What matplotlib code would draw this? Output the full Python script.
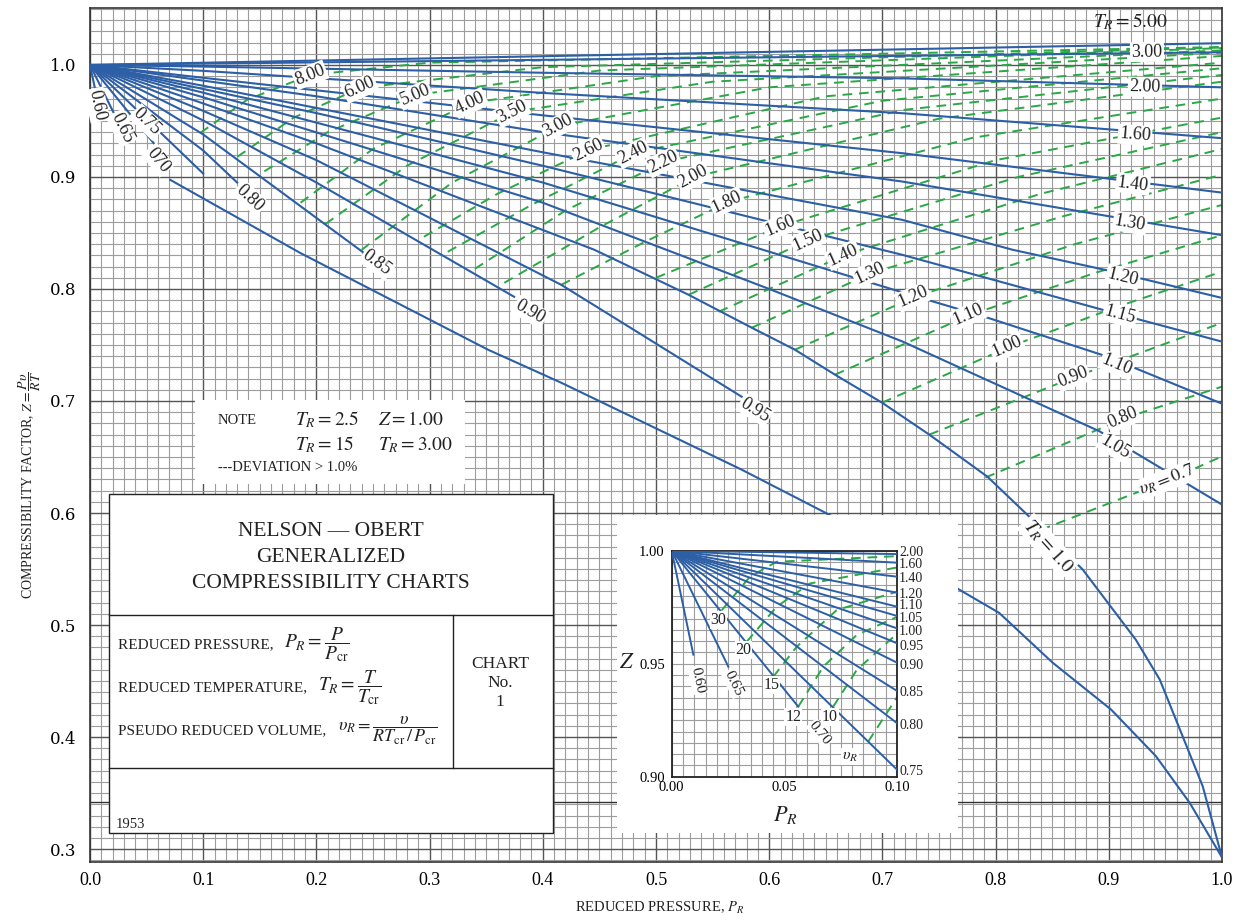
import numpy as np
import matplotlib.pyplot as plt
from matplotlib.patches import Rectangle
from matplotlib.ticker import MultipleLocator

plt.rcParams['font.family'] = ['Liberation Serif', 'DejaVu Serif']
plt.rcParams['mathtext.fontset'] = 'stix'

BLUE = '#2c5fa6'
GREEN = '#2aa845'
INK = '#222222'

# ---- main chart: isotherms (T_R), points as (P_R, Z)
tr_names = ['5.00', '3.00', '2.00', '1.60', '1.40', '1.30', '1.20', '1.15', '1.10',
            '1.05', '1.0', '0.95', '0.90', '0.85', '0.80', '0.75', '0.70', '0.65', '0.60']
tr_p = [
    [0, 1.0],
    [0, 1.0],
    [0, 0.1, 0.4, 0.7175, 1.0],
    [0, 0.1, 0.4, 0.7175, 1.0],
    [0, 0.1, 0.4, 0.7175, 1.0],
    [0, 0.2, 0.4, 0.7175, 1.0],
    [0, 0.1, 0.4, 0.7175, 0.815, 0.897, 1.0],
    [0, 0.2, 0.4, 0.7175, 0.8946, 1.0],
    [0, 0.1, 0.4, 0.7175, 0.794, 0.8975, 1.0],
    [0, 0.1, 0.4, 0.6, 0.7175, 0.8917, 1.0],
    [0, 0.1, 0.2, 0.4455, 0.5288, 0.5846, 0.6227, 0.6581, 0.6997, 0.7414, 0.7927,
     0.8326, 0.877, 0.9017, 0.9238, 0.945, 0.9628, 0.983, 1.0],
    [0, 0.1, 0.2, 0.4163, 0.5757],
    [0, 0.1, 0.2, 0.3747],
    [0, 0.1, 0.2418],
    [0, 0.1, 0.13],
    [0, 0.1],
    [0, 0.062],
    [0, 0.0251],
    [0, 0.0096],
]
tr_z = [
    [1.0, 1.0194],
    [1.0, 1.0113],
    [1.0, 0.9985, 0.993, 0.988, 0.980],
    [1.0, 0.9947, 0.975, 0.9569, 0.9346],
    [1.0, 0.9885, 0.955, 0.9212, 0.886],
    [1.0, 0.972, 0.94, 0.8959, 0.848],
    [1.0, 0.9814, 0.922, 0.8617, 0.835, 0.817, 0.792],
    [1.0, 0.957, 0.91, 0.8305, 0.7814, 0.753],
    [1.0, 0.9752, 0.895, 0.797, 0.774, 0.740, 0.6976],
    [1.0, 0.9711, 0.877, 0.80, 0.7532, 0.673, 0.6075],
    [1.0, 0.9656, 0.93, 0.835, 0.7948, 0.7654, 0.7458, 0.7235, 0.6985, 0.67, 0.6325,
     0.594, 0.5495, 0.5165, 0.487, 0.4514, 0.4068, 0.356, 0.2926],
    [1.0, 0.959, 0.915, 0.8037, 0.7038],
    [1.0, 0.9504, 0.895, 0.793],
    [1.0, 0.9379, 0.8323],
    [1.0, 0.9236, 0.895],
    [1.0, 0.903],
    [1.0, 0.923],
    [1.0, 0.9487],
    [1.0, 0.954],
]

# saturated vapour line down to the critical point
sat_p = [0.0709, 0.186, 0.3516, 0.4163, 0.5757, 0.6528, 0.7677, 0.8031, 0.8503, 0.902,
         0.9416, 0.9714, 1.0]
sat_z = [0.8974, 0.832, 0.7458, 0.7163, 0.6387, 0.5986, 0.5317, 0.5109, 0.4665, 0.4246,
         0.383, 0.3414, 0.2926]

# pseudo reduced volume lines (v_R), green dashed
vr_names = ['8.00', '6.00', '5.00', '4.00', '3.50', '3.00', '2.60', '2.40', '2.20', '2.00',
            '1.80', '1.60', '1.50', '1.40', '1.30', '1.20', '1.10', '1.00', '0.90', '0.80', '0.7']
vr_p = [
    [0.0974, 0.139, 0.1949, 0.30, 1.0],
    [0.1302, 0.18, 0.2391, 0.40, 1.0],
    [0.154, 0.21, 0.2879, 0.45, 1.0],
    [0.186, 0.25, 0.3366, 0.50, 1.0],
    [0.208, 0.28, 0.3738, 0.55, 1.0],
    [0.24, 0.32, 0.4145, 0.60, 1.0],
    [0.295, 0.36, 0.4411, 0.65, 1.0],
    [0.316, 0.39, 0.481, 0.70, 1.0],
    [0.34, 0.42, 0.5075, 0.72, 1.0],
    [0.366, 0.45, 0.5341, 0.75, 1.0],
    [0.4163, 0.49, 0.5642, 0.78, 1.0],
    [0.50, 0.6112, 0.80, 1.0],
    [0.5288, 0.636, 0.82, 1.0],
    [0.5554, 0.667, 0.84, 1.0],
    [0.5846, 0.6909, 0.86, 1.0],
    [0.6227, 0.729, 0.87, 1.0],
    [0.6581, 0.7777, 0.89, 1.0],
    [0.6997, 0.8122, 0.91, 1.0],
    [0.7414, 0.8707, 1.0],
    [0.791, 0.915, 1.0],
    [0.84, 0.954, 1.0],
]
vr_z = [
    [0.9393, 0.969, 0.9911, 1.002, 1.016],
    [0.918, 0.953, 0.9795, 0.998, 1.0155],
    [0.905, 0.94, 0.9732, 0.995, 1.015],
    [0.877, 0.925, 0.9661, 0.99, 1.013],
    [0.858, 0.91, 0.9581, 0.985, 1.011],
    [0.835, 0.895, 0.9456, 0.98, 1.008],
    [0.8466, 0.885, 0.9242, 0.972, 1.002],
    [0.8332, 0.875, 0.9215, 0.968, 0.997],
    [0.818, 0.87, 0.9135, 0.96, 0.991],
    [0.8055, 0.855, 0.9001, 0.952, 0.985],
    [0.8037, 0.842, 0.8778, 0.935, 0.970],
    [0.81, 0.8564, 0.915, 0.953],
    [0.7948, 0.8439, 0.90, 0.94],
    [0.7797, 0.8305, 0.885, 0.925],
    [0.7654, 0.8145, 0.865, 0.902],
    [0.7458, 0.793, 0.84, 0.875],
    [0.7235, 0.777, 0.815, 0.848],
    [0.6985, 0.7484, 0.785, 0.8155],
    [0.67, 0.7217, 0.7698],
    [0.6316, 0.6851, 0.7128],
    [0.585, 0.6298, 0.6506],
]

# ---- inset (0 < P_R < 0.10)
in_tr_names = ['2.00', '1.60', '1.40', '1.20', '1.10', '1.05', '1.00', '0.95', '0.90',
               '0.85', '0.80', '0.75', '0.70', '0.65', '0.60']
in_tr_end_p = [0.1, 0.1, 0.1, 0.1, 0.1, 0.1, 0.1, 0.1, 0.1, 0.1, 0.1, 0.1, 0.0561, 0.0251, 0.0096]
in_tr_end_z = [0.9985, 0.9947, 0.9885, 0.9814, 0.9752, 0.9711, 0.9656, 0.959, 0.9504,
               0.9379, 0.9236, 0.903, 0.931, 0.9487, 0.954]

in_vr_names = ['30', '20', '15', '12', '10', r'$\upsilon_R$']
in_vr_p = [
    [0.0222, 0.0347, 0.0465, 0.1],
    [0.0332, 0.0465, 0.0613, 0.1],
    [0.045, 0.0554, 0.0731, 0.1],
    [0.0561, 0.0672, 0.082, 0.1],
    [0.0716, 0.082, 0.1],
    [0.0871, 0.1],
]
in_vr_z = [
    [0.9737, 0.9885, 0.9951, 0.9976],
    [0.9597, 0.9752, 0.9855, 0.9926],
    [0.9442, 0.9575, 0.9737, 0.9819],
    [0.931, 0.9487, 0.9627, 0.9708],
    [0.931, 0.9472, 0.9634],
    [0.9155, 0.9354],
]

# ---------------------------------------------------------------------------
W, H = 1235, 924
fig = plt.figure(figsize=(W / 100, H / 100), dpi=100)


def fx(x):
    return x / W


def fy(y):
    return 1 - y / H


def seg_angle(a, x0, y0, x1, y1):
    (u0, v0), (u1, v1) = a.transData.transform([(x0, y0), (x1, y1)])
    return np.degrees(np.arctan2(v1 - v0, u1 - u0))


def curve_angle(a, cx, cz, px):
    i = int(np.searchsorted(cx, px))
    i = min(max(i, 1), len(cx) - 1)
    return seg_angle(a, cx[i - 1], cz[i - 1], cx[i], cz[i])


def curve_label(a, cx, cz, px, pz, s, size=13, bg=True, rot=None):
    ang = curve_angle(a, cx, cz, px) if rot is None else rot
    box = dict(boxstyle='square,pad=0.08', fc='white', ec='none') if bg else None
    a.text(px, pz, s, rotation=ang, rotation_mode='anchor', ha='center', va='center',
           fontsize=size, color=INK, bbox=box, zorder=6)


ax = fig.add_axes([fx(90), fy(862), fx(1222) - fx(90), fy(8) - fy(862)])
ax.set_xlim(0, 1.0)
ax.set_ylim(0.2885, 1.0508)
ax.xaxis.set_major_locator(MultipleLocator(0.1))
ax.xaxis.set_minor_locator(MultipleLocator(0.01))
ax.yaxis.set_major_locator(MultipleLocator(0.1))
ax.yaxis.set_minor_locator(MultipleLocator(0.01))
ax.grid(which='minor', color='#9d9d9d', lw=0.8)
ax.grid(which='major', color='#555555', lw=1.0)
ax.axhline(0.3425, color='#333333', lw=1.0, zorder=1)
ax.set_axisbelow(True)
ax.tick_params(which='both', length=0)
ax.tick_params(axis='x', labelsize=13, pad=7)
ax.tick_params(axis='y', labelsize=12, pad=10)
for t in ax.get_yticklabels():
    t.set_family('DejaVu Serif')
ax.xaxis.set_major_formatter(lambda v, pos: f'{v:.1f}')
ax.yaxis.set_major_formatter(lambda v, pos: f'{v:.1f}')
for s in ax.spines.values():
    s.set_linewidth(1.2)
    s.set_color('#333333')

for p, z in zip(vr_p, vr_z):
    ax.plot(p, z, color=GREEN, lw=1.4, ls=(0, (5, 3.5)), zorder=2.5)
for p, z in zip(tr_p, tr_z):
    ax.plot(p, z, color=BLUE, lw=1.5, zorder=3)
ax.plot(sat_p, sat_z, color=BLUE, lw=1.5, zorder=3)

# isotherm labels (pixel positions on the page -> data)
inv = ax.transData.inverted()


def pdata(x, y):
    return inv.transform(fig.transFigure.transform((fx(x), fy(y))))


tr_lab_px = {
    '3.00': (1147, 52), '2.00': (1145, 87), '1.60': (1135, 135), '1.40': (1133, 184),
    '1.30': (1130, 223), '1.20': (1123, 277), '1.15': (1120, 315), '1.10': (1117, 365),
    '1.05': (1115, 447), '0.95': (755, 410), '0.90': (530, 312), '0.85': (377, 263),
    '0.80': (250, 198), '0.75': (147, 122), '0.70': (158, 160), '0.65': (122, 128),
    '0.60': (97, 105),
}
for name, p, z in zip(tr_names, tr_p, tr_z):
    if name in tr_lab_px:
        lx, lz = pdata(*tr_lab_px[name])
        txt = '070' if name == '0.70' else name
        curve_label(ax, p, z, lx, lz, txt)
lx, lz = pdata(1048, 546)
curve_label(ax, tr_p[10], tr_z[10], lx, lz, r'$T_R = 1.0$', size=14, rot=-48)
lx, lz = pdata(1130, 22)
ax.text(lx, lz, r'$T_R = 5.00$', fontsize=14, ha='center', va='center', color=INK)

vr_lab_px = [(310, 75), (360, 88), (415, 95), (470, 103), (512, 112), (558, 126),
             (588, 150), (633, 153), (663, 162), (693, 177), (727, 202), (780, 226),
             (808, 240), (843, 255), (870, 273), (913, 297), (968, 315), (1007, 347),
             (1073, 377), (1123, 418), (1167, 480)]
for name, p, z, xy in zip(vr_names, vr_p, vr_z, vr_lab_px):
    lx, lz = pdata(*xy)
    txt = r'$\upsilon_R = 0.7$' if name == '0.7' else name
    curve_label(ax, p, z, lx, lz, txt)

# boxes on the main chart
ax.add_patch(Rectangle((fx(195), fy(484)), fx(465) - fx(195), fy(400) - fy(484),
                       transform=fig.transFigure, fc='white', ec='none', zorder=5))
ax.add_patch(Rectangle((fx(109), fy(833)), fx(553) - fx(109), fy(494) - fy(833),
                       transform=fig.transFigure, fc='white', ec='#222222', lw=1.0, zorder=5))
ax.add_patch(Rectangle((fx(617), fy(833)), fx(958) - fx(617), fy(515) - fy(833),
                       transform=fig.transFigure, fc='white', ec='none', zorder=5))
ax.plot([fx(109), fx(553)], [fy(615), fy(615)], transform=fig.transFigure, color='#222222', lw=1.0, zorder=6)
ax.plot([fx(109), fx(553)], [fy(768), fy(768)], transform=fig.transFigure, color='#222222', lw=1.0, zorder=6)
ax.plot([fx(453), fx(453)], [fy(615), fy(768)], transform=fig.transFigure, color='#222222', lw=1.0, zorder=6)

tk = dict(transform=fig.transFigure, color=INK, zorder=7)
ax.text(fx(218), fy(420), 'NOTE', fontsize=10.5, va='center', **tk)
ax.text(fx(295), fy(420), r'$T_R = 2.5$', fontsize=14, va='center', **tk)
ax.text(fx(378), fy(420), r'$Z = 1.00$', fontsize=14, va='center', **tk)
ax.text(fx(295), fy(445), r'$T_R = 15$', fontsize=14, va='center', **tk)
ax.text(fx(378), fy(445), r'$T_R = 3.00$', fontsize=14, va='center', **tk)
ax.text(fx(218), fy(468), '---DEVIATION > 1.0%', fontsize=10.5, va='center', **tk)

for y, s in [(532, 'NELSON \u2014 OBERT'), (558, 'GENERALIZED'), (584, 'COMPRESSIBILITY CHARTS')]:
    ax.text(fx(331), fy(y), s, fontsize=15.5, ha='center', va='center', **tk)
ax.text(fx(118), fy(645), 'REDUCED PRESSURE,', fontsize=11, va='center', **tk)
ax.text(fx(284), fy(645), r'$P_R = \dfrac{P}{P_{\rm cr}}$', fontsize=14, va='center', **tk)
ax.text(fx(118), fy(688), 'REDUCED TEMPERATURE,', fontsize=11, va='center', **tk)
ax.text(fx(318), fy(688), r'$T_R = \dfrac{T}{T_{\rm cr}}$', fontsize=14, va='center', **tk)
ax.text(fx(118), fy(731), 'PSEUDO REDUCED VOLUME,', fontsize=11, va='center', **tk)
ax.text(fx(338), fy(731), r'$\upsilon_R = \dfrac{\upsilon}{RT_{\rm cr}\,/\,P_{\rm cr}}$',
        fontsize=13, va='center', **tk)
for y, s in [(664, 'CHART'), (683, 'No.'), (702, '1')]:
    ax.text(fx(500), fy(y), s, fontsize=12.5, ha='center', va='center', **tk)
ax.text(fx(116), fy(824), '1953', fontsize=10.5, va='center', **tk)

fig.text(fx(30), fy(485), r'COMPRESSIBILITY FACTOR, $Z = \dfrac{P\upsilon}{RT}$',
         rotation=90, fontsize=10, ha='center', va='center', color=INK)
fig.text(fx(660), fy(908), r'REDUCED PRESSURE, $P_R$', fontsize=10.5,
         ha='center', va='center', color=INK)

# ---- inset
ins = fig.add_axes([fx(671.7), fy(776.7), fx(897.3) - fx(671.7), fy(550.7) - fy(776.7)], zorder=5)
ins.set_xlim(0, 0.1)
ins.set_ylim(0.9, 1.0)
ins.set_xticks([0, 0.05, 0.1])
ins.set_xticklabels(['0.00', '0.05', '0.10'])
ins.set_yticks([0.9, 0.95, 1.0])
ins.set_yticklabels(['0.90', '0.95', '1.00'])
ins.xaxis.set_minor_locator(MultipleLocator(0.005))
ins.yaxis.set_minor_locator(MultipleLocator(0.005))
ins.grid(which='both', color='#9d9d9d', lw=0.8)
ins.set_axisbelow(True)
ins.tick_params(which='both', length=0, labelsize=10.5)
ins.tick_params(axis='x', pad=3)
ins.tick_params(axis='y', pad=5)
for s in ins.spines.values():
    s.set_linewidth(1.3)
    s.set_color('#222222')

for p, z in zip(in_vr_p, in_vr_z):
    ins.plot(p, z, color=GREEN, lw=1.4, ls=(0, (5, 3.5)), zorder=2.5)
for name, p1, z1 in zip(in_tr_names, in_tr_end_p, in_tr_end_z):
    ins.plot([0, p1], [1.0, z1], color=BLUE, lw=1.4, zorder=3)

in_right_lab_z = [0.9992, 0.9938, 0.9878, 0.9808, 0.9756, 0.9702, 0.9641, 0.9578,
                  0.9494, 0.9372, 0.9228, 0.9022]
for name, z in zip(in_tr_names[:12], in_right_lab_z):
    ins.text(0.1008, z, name, fontsize=10, va='center', ha='left', color=INK, clip_on=False)

for name, (lx, lz) in zip(['0.70', '0.65', '0.60'], [(0.0657, 0.9192), (0.0273, 0.9413), (0.0114, 0.9428)]):
    i = in_tr_names.index(name)
    ang = seg_angle(ins, 0, 1.0, in_tr_end_p[i], in_tr_end_z[i])
    ins.text(lx, lz, name, rotation=ang, rotation_mode='anchor', ha='center', va='center',
             fontsize=11, color=INK, bbox=dict(boxstyle='square,pad=0.05', fc='white', ec='none'))
for name, (lx, lz) in zip(in_vr_names, [(0.0207, 0.9693), (0.0318, 0.956), (0.0443, 0.9406),
                                        (0.0539, 0.9265), (0.0702, 0.9265), (0.079, 0.909)]):
    ins.text(lx, lz, name, ha='center', va='center', fontsize=11.5, color=INK,
             bbox=dict(boxstyle='square,pad=0.05', fc='white', ec='none'))

fig.text(fx(627), fy(663), r'$Z$', fontsize=16, ha='center', va='center', color=INK)
fig.text(fx(785), fy(815), r'$P_R$', fontsize=16, ha='center', va='center', color=INK)

fig.savefig('out.png', dpi=100)
